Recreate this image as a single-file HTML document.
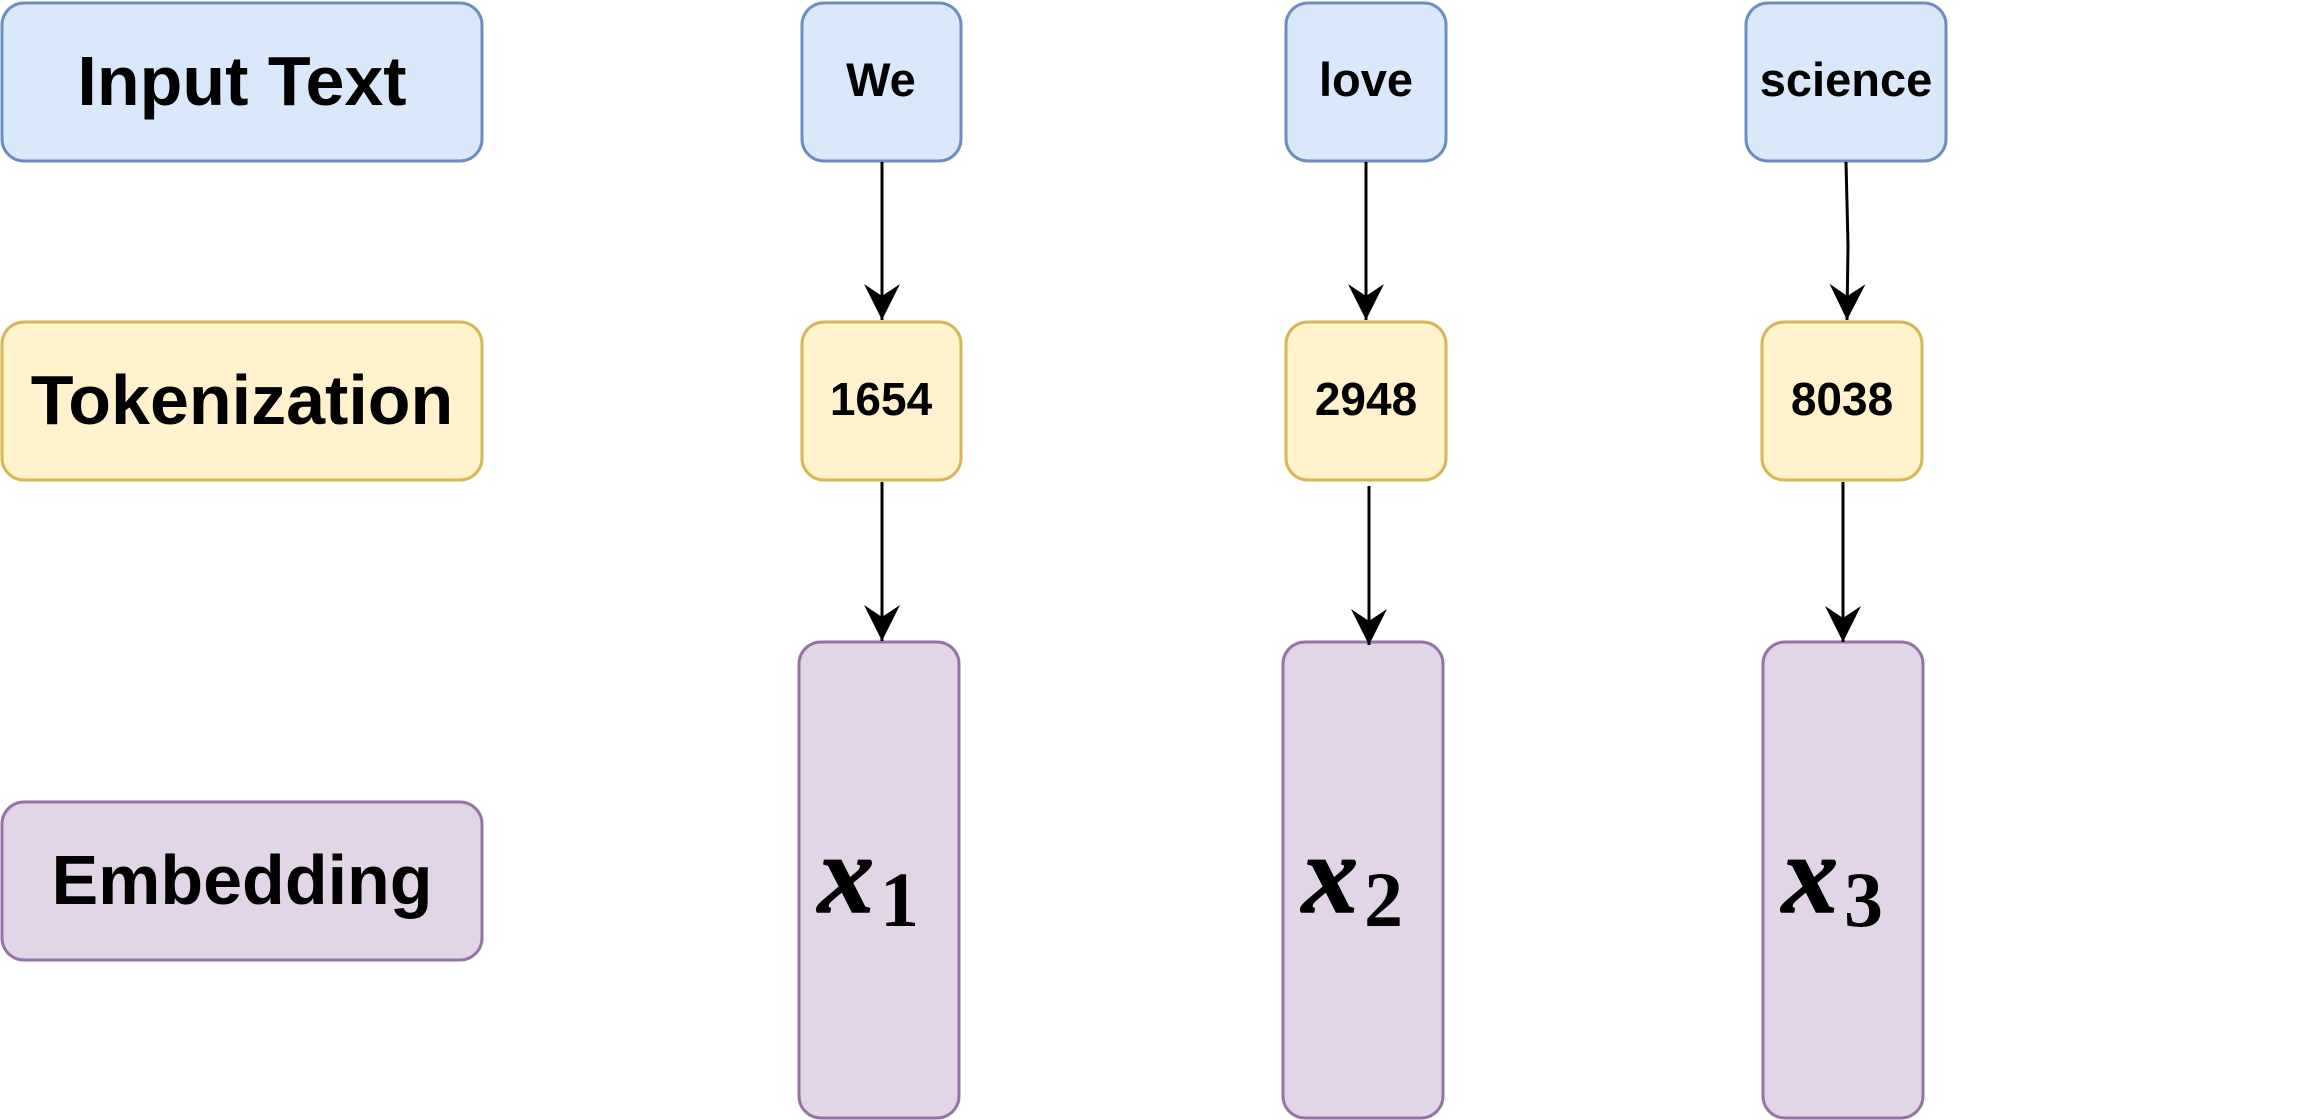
<!DOCTYPE html>
<html><head><meta charset="utf-8"><style>
html,body{margin:0;padding:0;background:#fff;}
svg{display:block;}
text{font-family:"Liberation Sans",Arial,sans-serif;font-weight:bold;fill:#000;}
.m{font-family:"Liberation Serif",serif;font-style:italic;font-weight:bold;stroke:#000;stroke-width:1.5;}
.d{font-family:"Liberation Serif",serif;font-weight:bold;}
</style></head><body>
<svg width="2304" height="1120" viewBox="0 0 2304 1120" xmlns="http://www.w3.org/2000/svg">
<defs>
<marker id="a" markerUnits="userSpaceOnUse" markerWidth="40" markerHeight="40" viewBox="0 0 40 40" refX="36" refY="18" orient="auto">
<path d="M36 18 L0 0 L12 18 L0 36 Z" fill="#000"/>
</marker>
</defs>
<g stroke-width="3">
<rect x="2" y="3" width="480" height="158" rx="22" fill="#dae8fc" stroke="#6c8ebf"/>
<rect x="2" y="322" width="480" height="158" rx="22" fill="#fff2cc" stroke="#d6b656"/>
<rect x="2" y="802" width="480" height="158" rx="22" fill="#e1d5e7" stroke="#9673a6"/>
<rect x="802" y="3" width="159" height="158" rx="22" fill="#dae8fc" stroke="#6c8ebf"/>
<rect x="1286" y="3" width="160" height="158" rx="22" fill="#dae8fc" stroke="#6c8ebf"/>
<rect x="1746" y="3" width="200" height="158" rx="22" fill="#dae8fc" stroke="#6c8ebf"/>
<rect x="802" y="322" width="159" height="158" rx="22" fill="#fff2cc" stroke="#d6b656"/>
<rect x="1286" y="322" width="160" height="158" rx="22" fill="#fff2cc" stroke="#d6b656"/>
<rect x="1762" y="322" width="160" height="158" rx="22" fill="#fff2cc" stroke="#d6b656"/>
<rect x="799" y="642" width="160" height="476" rx="22" fill="#e1d5e7" stroke="#9673a6"/>
<rect x="1283" y="642" width="160" height="476" rx="22" fill="#e1d5e7" stroke="#9673a6"/>
<rect x="1763" y="642" width="160" height="476" rx="22" fill="#e1d5e7" stroke="#9673a6"/>
</g>
<g stroke="#000" stroke-width="3" fill="none">
<path d="M882 162 L882 320" marker-end="url(#a)"/>
<path d="M882 482 L882 641" marker-end="url(#a)"/>
<path d="M1366 162 L1366 320" marker-end="url(#a)"/>
<path d="M1369 486 L1369 645" marker-end="url(#a)"/>
<path d="M1846 162 L1848 245 L1847 320" marker-end="url(#a)"/>
<path d="M1843 482 L1843 642" marker-end="url(#a)"/>
</g>
<g text-anchor="middle">
<text x="242" y="105" font-size="70">Input Text</text>
<text x="242" y="424" font-size="70">Tokenization</text>
<text x="242" y="904" font-size="70">Embedding</text>
<text x="881" y="96" font-size="47">We</text>
<text x="1366" y="96" font-size="47">love</text>
<text x="1846" y="96" font-size="47">science</text>
<text x="881" y="415" font-size="46">1654</text>
<text x="1366" y="415" font-size="46">2948</text>
<text x="1842" y="415" font-size="46">8038</text>
</g>
<text class="m" x="818" y="912" font-size="112">x</text><text class="d" x="880" y="926" font-size="78">1</text>
<text class="m" x="1302" y="912" font-size="112">x</text><text class="d" x="1364" y="926" font-size="78">2</text>
<text class="m" x="1782" y="912" font-size="112">x</text><text class="d" x="1844" y="926" font-size="78">3</text>
</svg>
</body></html>
